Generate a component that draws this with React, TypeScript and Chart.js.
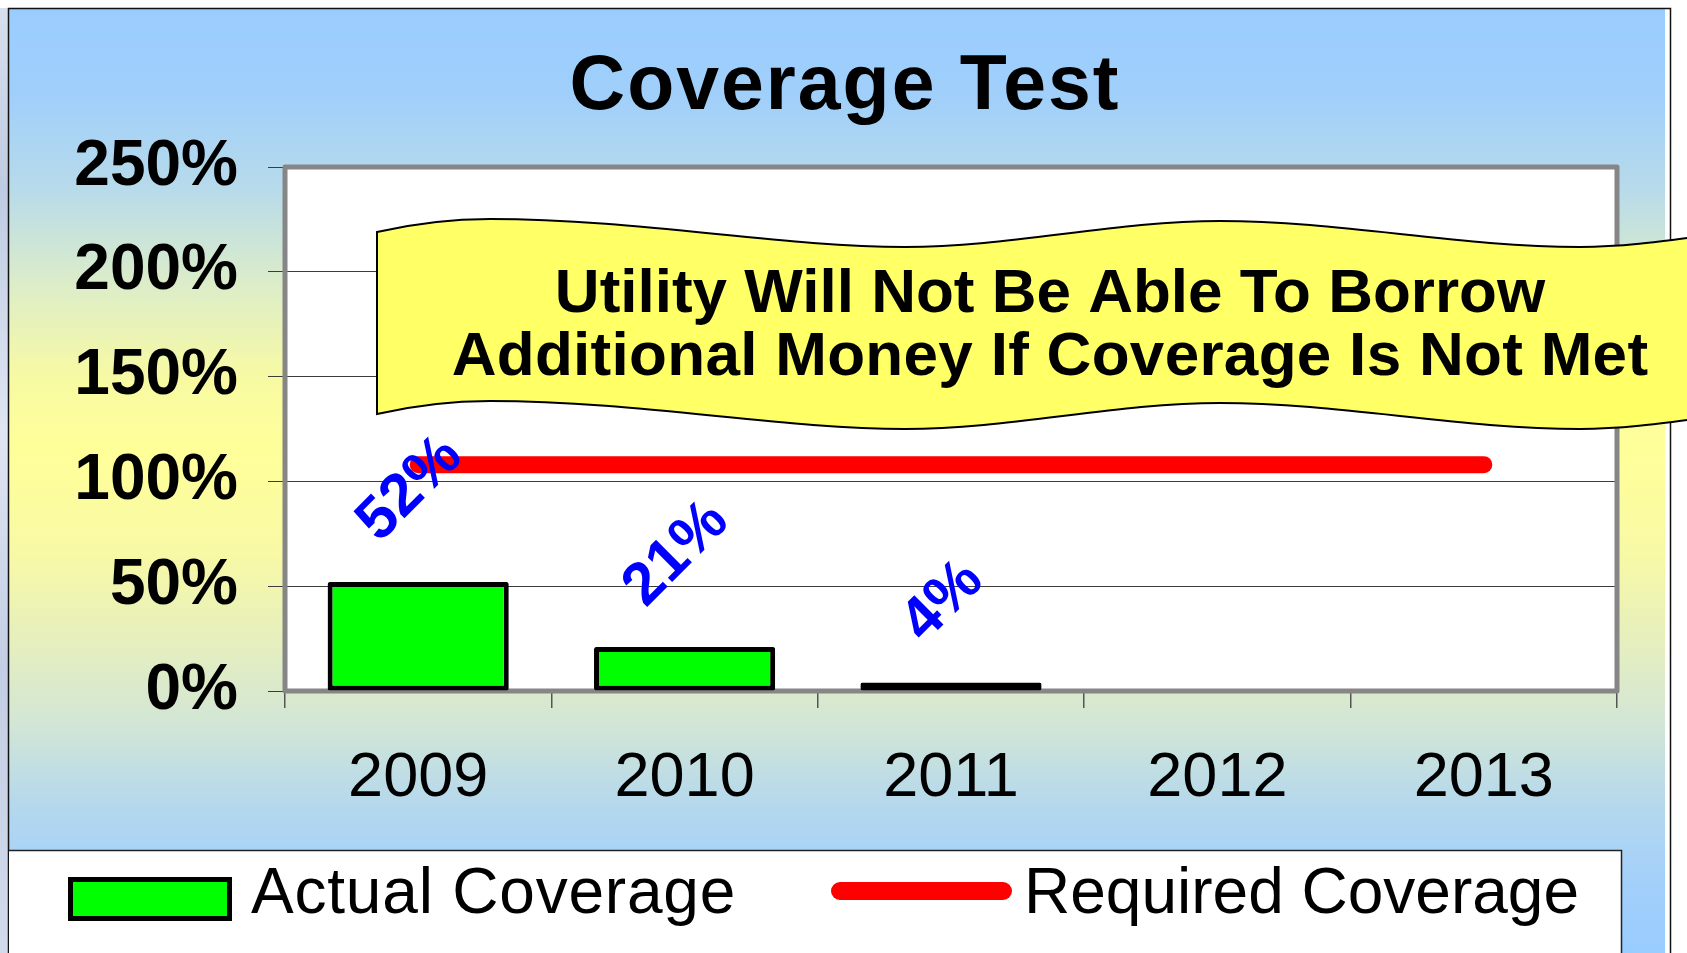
import React, { useEffect, useRef } from 'react';
import { Chart, registerables } from 'chart.js';

Chart.register(...registerables);

const categories = ['2009', '2010', '2011', '2012', '2013'];
const actualCoverage: (number | null)[] = [52, 21, 4, null, null];
const requiredCoverage: number[] = [108, 108, 108, 108, 108];
const yTicks: number[] = [0, 50, 100, 150, 200, 250];
const titleText = 'Coverage Test';
const bannerLines = ['Utility Will Not Be Able To Borrow', 'Additional Money If Coverage Is Not Met'];
const seriesNames = ['Actual Coverage', 'Required Coverage'];

const FAMILY = '"Liberation Sans", Arial, Helvetica, sans-serif';
const W = 1687;
const H = 953;

function bannerEdge(ctx: CanvasRenderingContext2D, dy: number, reverse: boolean) {
  const segs: number[][] = [
    [377, 232],
    [412, 224, 447, 219, 490, 219],
    [640, 219, 780, 247, 905, 247],
    [1010, 247, 1115, 221, 1220, 221],
    [1340, 221, 1460, 247, 1580, 247],
    [1625, 247, 1665, 241, 1710, 235],
  ];
  if (!reverse) {
    ctx.moveTo(segs[0][0], segs[0][1] + dy);
    for (let i = 1; i < segs.length; i++) {
      const s = segs[i];
      ctx.bezierCurveTo(s[0], s[1] + dy, s[2], s[3] + dy, s[4], s[5] + dy);
    }
  } else {
    const last = segs[segs.length - 1];
    ctx.lineTo(last[4], last[5] + dy);
    for (let i = segs.length - 1; i >= 1; i--) {
      const s = segs[i];
      const prev = i - 1 === 0 ? [segs[0][0], segs[0][1]] : [segs[i - 1][4], segs[i - 1][5]];
      ctx.bezierCurveTo(s[2], s[3] + dy, s[0], s[1] + dy, prev[0], prev[1] + dy);
    }
  }
}

const decorPlugin = {
  id: 'decor',
  beforeDraw(chart: any) {
    const ctx: CanvasRenderingContext2D = chart.ctx;
    const ca = chart.chartArea;
    ctx.save();
    ctx.fillStyle = '#ffffff';
    ctx.fillRect(0, 0, W, H);
    const ls = ctx.createLinearGradient(0, 0, 0, H);
    ls.addColorStop(0, '#d9e0ee');
    ls.addColorStop(0.2, '#bfcbe2');
    ls.addColorStop(0.45, '#dfe6f2');
    ls.addColorStop(0.7, '#c3cee4');
    ls.addColorStop(1, '#d2dbeb');
    ctx.fillStyle = ls;
    ctx.fillRect(0, 8, 8, H);
    const g = ctx.createLinearGradient(0, 0, 0, H);
    g.addColorStop(0, '#99CCFF');
    g.addColorStop(0.1, '#A0CFFA');
    g.addColorStop(0.2, '#B8DBEA');
    g.addColorStop(0.3, '#DDEDC8');
    g.addColorStop(0.4, '#F8FAA2');
    g.addColorStop(0.47, '#FFFF99');
    g.addColorStop(0.58, '#F8F9A5');
    g.addColorStop(0.68, '#E4EEC0');
    g.addColorStop(0.76, '#D2E6D6');
    g.addColorStop(0.85, '#B3D7EE');
    g.addColorStop(0.93, '#A2CFFA');
    g.addColorStop(1, '#99CCFF');
    ctx.fillStyle = g;
    ctx.fillRect(9, 9, 1656, H - 9);
    ctx.strokeStyle = '#111';
    ctx.lineWidth = 1.5;
    ctx.beginPath();
    ctx.moveTo(8.5, H + 2);
    ctx.lineTo(8.5, 8.5);
    ctx.lineTo(1670.5, 8.5);
    ctx.lineTo(1670.5, H + 2);
    ctx.stroke();
    ctx.fillStyle = '#ffffff';
    ctx.fillRect(ca.left, ca.top, ca.right - ca.left, ca.bottom - ca.top);
    ctx.fillStyle = '#000';
    ctx.font = `bold 77px ${FAMILY}`;
    (ctx as any).letterSpacing = '2px';
    ctx.textAlign = 'center';
    ctx.textBaseline = 'alphabetic';
    ctx.fillText(titleText, 845, 109);
    (ctx as any).letterSpacing = '0px';
    ctx.restore();
  },
  beforeDatasetsDraw(chart: any) {
    const ctx: CanvasRenderingContext2D = chart.ctx;
    const ca = chart.chartArea;
    ctx.save();
    ctx.strokeStyle = '#868686';
    ctx.lineWidth = 5;
    ctx.lineJoin = 'round';
    ctx.strokeRect(ca.left, ca.top, ca.right - ca.left, ca.bottom - ca.top);
    ctx.restore();
  },
  afterDatasetsDraw(chart: any) {
    const ctx: CanvasRenderingContext2D = chart.ctx;
    const idx = chart.data.datasets.findIndex((d: any) => d.type === 'bar');
    const meta = chart.getDatasetMeta(idx);
    const fs = 60;
    ctx.save();
    ctx.font = `bold ${fs}px ${FAMILY}`;
    ctx.fillStyle = '#0000FF';
    ctx.textAlign = 'center';
    ctx.textBaseline = 'middle';
    meta.data.forEach((el: any, i: number) => {
      const v = chart.data.datasets[idx].data[i];
      if (v == null) return;
      const txt = `${v}%`;
      const w = ctx.measureText(txt).width;
      const half = (w + fs * 0.72) / Math.SQRT2 / 2;
      const cx = el.x - 8;
      const cy = el.y - 35 - half;
      ctx.save();
      ctx.translate(cx, cy);
      ctx.rotate(-Math.PI / 4);
      ctx.fillText(txt, 0, 0);
      ctx.restore();
    });
    ctx.restore();
  },
  afterDraw(chart: any) {
    const ctx: CanvasRenderingContext2D = chart.ctx;
    ctx.save();
    ctx.beginPath();
    bannerEdge(ctx, 0, false);
    bannerEdge(ctx, 182, true);
    ctx.closePath();
    ctx.fillStyle = '#FFFF66';
    ctx.fill();
    ctx.strokeStyle = '#000';
    ctx.lineWidth = 2;
    ctx.stroke();
    ctx.fillStyle = '#000';
    ctx.font = `bold 62px ${FAMILY}`;
    ctx.textAlign = 'center';
    ctx.textBaseline = 'alphabetic';
    ctx.fillText(bannerLines[0], 1050, 312);
    (ctx as any).letterSpacing = '0.3px';
    ctx.fillText(bannerLines[1], 1050, 375);
    (ctx as any).letterSpacing = '0px';

    ctx.fillStyle = '#ffffff';
    ctx.fillRect(9, 850, 1613, H - 850 + 5);
    ctx.strokeStyle = '#222';
    ctx.lineWidth = 1.5;
    ctx.beginPath();
    ctx.moveTo(9, 850.5);
    ctx.lineTo(1621.5, 850.5);
    ctx.lineTo(1621.5, H + 2);
    ctx.stroke();

    const ds = chart.data.datasets;
    const barDs = ds.find((d: any) => d.type === 'bar');
    const lineDs = ds.find((d: any) => d.type === 'line');
    ctx.fillStyle = barDs.backgroundColor;
    ctx.fillRect(68, 877, 164, 44);
    ctx.strokeStyle = barDs.borderColor;
    ctx.lineWidth = 5;
    ctx.strokeRect(70.5, 879.5, 159, 39);
    ctx.strokeStyle = lineDs.borderColor;
    ctx.lineWidth = 18;
    ctx.lineCap = 'round';
    ctx.beginPath();
    ctx.moveTo(840, 891);
    ctx.lineTo(1003, 891);
    ctx.stroke();
    ctx.fillStyle = '#000';
    ctx.font = `64px ${FAMILY}`;
    ctx.textAlign = 'left';
    (ctx as any).letterSpacing = '0.8px';
    ctx.fillText(barDs.label, 251, 913);
    (ctx as any).letterSpacing = '0px';
    ctx.fillText(lineDs.label, 1024, 913);
    ctx.restore();
  },
};

export default function App() {
  const ref = useRef<HTMLCanvasElement | null>(null);
  useEffect(() => {
    if (!ref.current) return;
    const chart = new Chart(ref.current, {
      type: 'bar',
      data: {
        labels: categories,
        datasets: [
          {
            type: 'bar',
            label: seriesNames[0],
            data: actualCoverage,
            backgroundColor: '#00FF00',
            borderColor: '#000000',
            borderWidth: 5,
            borderSkipped: false,
            borderRadius: 2,
            barPercentage: 0.68,
            categoryPercentage: 1,
            order: 2,
          } as any,
          {
            type: 'line',
            label: seriesNames[1],
            data: requiredCoverage,
            borderColor: '#FF0000',
            backgroundColor: '#FF0000',
            borderWidth: 17,
            borderCapStyle: 'round',
            pointRadius: 0,
            pointHoverRadius: 0,
            fill: false,
            order: 1,
          } as any,
        ],
      },
      options: {
        responsive: false,
        devicePixelRatio: 1,
        animation: false,
        layout: { padding: { top: 167, right: 70, bottom: 0, left: 0 } },
        plugins: {
          legend: { display: false },
          title: { display: false },
          tooltip: { enabled: false },
        },
        scales: {
          x: {
            offset: true,
            grid: {
              offset: true,
              drawOnChartArea: false,
              drawTicks: true,
              tickLength: 17,
              color: '#555555',
              lineWidth: 1.5,
            },
            border: { display: false },
            ticks: {
              font: { family: FAMILY, size: 63 },
              color: '#000',
              padding: 33,
              maxRotation: 0,
              autoSkip: false,
            },
            afterFit: (s: any) => {
              s.height = 262;
            },
          },
          y: {
            min: 0,
            max: 250,
            afterBuildTicks: (s: any) => {
              s.ticks = yTicks.map((v) => ({ value: v }));
            },
            grid: { color: '#3c3c3c', lineWidth: 1, tickLength: 17, drawTicks: true },
            border: { display: false },
            ticks: {
              font: { family: FAMILY, size: 64, weight: 'bold' },
              color: '#000',
              padding: 30,
              callback: (v: any) => `${v}%`,
            },
            afterFit: (s: any) => {
              s.width = 285;
            },
          },
        },
      } as any,
      plugins: [decorPlugin as any],
    });
    return () => chart.destroy();
  }, []);
  return (
    <div style={{ position: 'fixed', left: 0, top: 0, width: W, height: H, overflow: 'hidden' }}>
      <canvas ref={ref} width={W} height={H} style={{ width: W, height: H, display: 'block' }} />
    </div>
  );
}
